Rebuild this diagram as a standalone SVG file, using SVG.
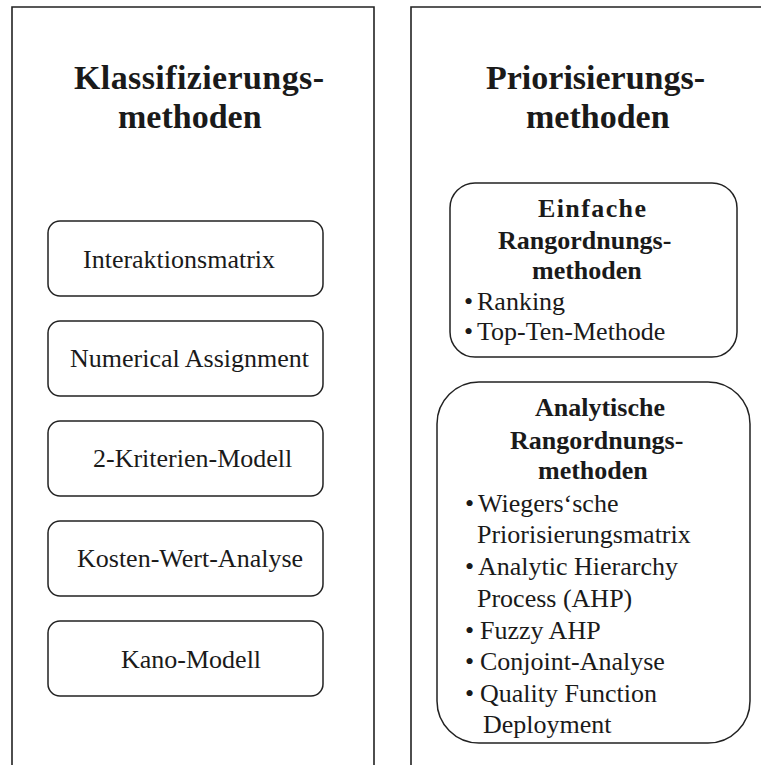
<svg xmlns="http://www.w3.org/2000/svg" width="761" height="765" viewBox="0 0 761 765">
<style>
.panel{fill:none;stroke:#222;stroke-width:1.6}
.box{fill:#fff;stroke:#222;stroke-width:1.5}
.t{font-family:"Liberation Serif","Times New Roman",serif;fill:#1a1a1a}
.title{font-size:34px;font-weight:bold}
.sub{font-size:26px;font-weight:bold}
.item{font-size:26px}
</style>
<rect width="761" height="765" fill="#fff"/>
<g id="klassifizierung">
<path class="panel" d="M12,770 V7 H374 V770"/>
<text class="t title" x="74" y="89" textLength="250" lengthAdjust="spacing">Klassifizierungs-</text>
<text class="t title" x="118" y="128">methoden</text>
</g>
<g id="interaktionsmatrix">
<rect class="box" x="48" y="221" width="275" height="75" rx="12"/>
<text class="t item" x="83" y="268">Interaktionsmatrix</text>
</g>
<g id="numerical">
<rect class="box" x="48" y="321" width="275" height="75" rx="12"/>
<text class="t item" x="70" y="367">Numerical Assignment</text>
</g>
<g id="kriterien">
<rect class="box" x="48" y="421" width="275" height="75" rx="12"/>
<text class="t item" x="93" y="467">2-Kriterien-Modell</text>
</g>
<g id="kosten">
<rect class="box" x="48" y="521" width="275" height="75" rx="12"/>
<text class="t item" x="77" y="567">Kosten-Wert-Analyse</text>
</g>
<g id="kano">
<rect class="box" x="48" y="621" width="275" height="75" rx="12"/>
<text class="t item" x="121" y="668">Kano-Modell</text>
</g>
<g id="priorisierung">
<path class="panel" d="M411,770 V7 H770"/>
<text class="t title" x="486" y="89">Priorisierungs-</text>
<text class="t title" x="526" y="128">methoden</text>
</g>
<g id="einfache">
<rect class="box" x="450" y="183" width="287" height="174" rx="25"/>
<text class="t sub" x="538" y="217" textLength="108" lengthAdjust="spacing">Einfache</text>
<text class="t sub" x="498" y="249">Rangordnungs-</text>
<text class="t sub" x="532" y="279">methoden</text>
<text class="t item" x="464" y="310">•</text>
<text class="t item" x="477" y="310">Ranking</text>
<text class="t item" x="464" y="340">•</text>
<text class="t item" x="477" y="340">Top-Ten-Methode</text>
</g>
<g id="analytische">
<rect class="box" x="437" y="382" width="313" height="361" rx="42"/>
<text class="t sub" x="535" y="416">Analytische</text>
<text class="t sub" x="510" y="449">Rangordnungs-</text>
<text class="t sub" x="538" y="479">methoden</text>
<text class="t item" x="465" y="512">•</text>
<text class="t item" x="478" y="512">Wiegers‘sche</text>
<text class="t item" x="477" y="543">Priorisierungsmatrix</text>
<text class="t item" x="465" y="575">•</text>
<text class="t item" x="478" y="575">Analytic Hierarchy</text>
<text class="t item" x="477" y="607">Process (AHP)</text>
<text class="t item" x="465" y="639">•</text>
<text class="t item" x="480" y="639">Fuzzy AHP</text>
<text class="t item" x="465" y="670">•</text>
<text class="t item" x="480" y="670">Conjoint-Analyse</text>
<text class="t item" x="465" y="702">•</text>
<text class="t item" x="480" y="702">Quality Function</text>
<text class="t item" x="483" y="733">Deployment</text>
</g>
<g id="connectors"></g>
</svg>
